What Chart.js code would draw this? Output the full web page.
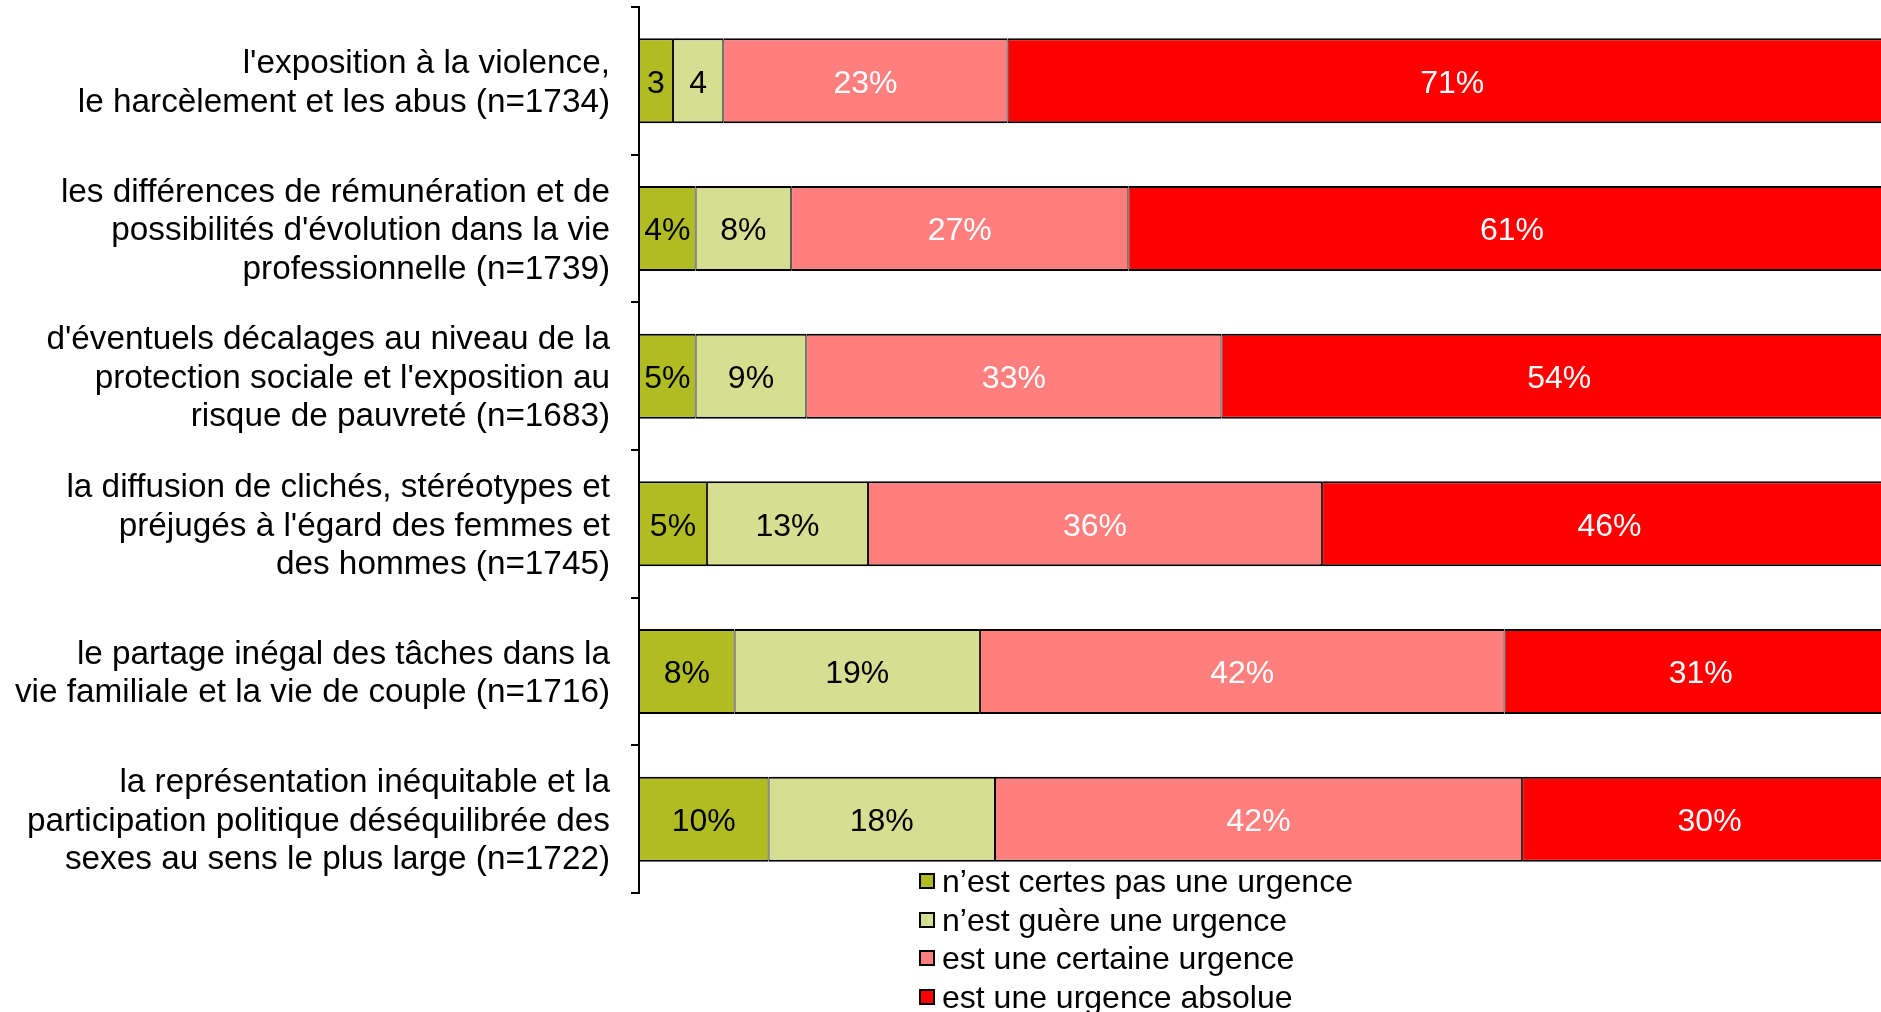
<!DOCTYPE html>
<html>
<head>
<meta charset="utf-8">
<script src="https://cdn.jsdelivr.net/npm/chart.js@4/dist/chart.umd.min.js"></script>
<style>
  html, body { margin: 0; padding: 0; background: #fff; overflow: hidden; width: 1881px; height: 1012px; }
  #wrap { position: absolute; left: 0; top: 0; width: 1898px; height: 1012px; }
  #legend { position: absolute; left: 919px; top: 862px; font-family: 'Liberation Sans', Arial, sans-serif; font-size: 32px; color: #000; }
  .item { height: 38.5px; line-height: 38.5px; white-space: nowrap; display: flex; align-items: center; }
  .box { width: 16px; height: 16px; box-sizing: border-box; border: 2px solid #000; margin-right: 7px; display: inline-block; }
</style>
</head>
<body>
<div id="wrap">
  <canvas id="c" width="1898" height="1012"></canvas>
  <div id="legend"></div>
</div>
<script>
const categories = [
  ["l'exposition à la violence,", "le harcèlement et les abus (n=1734)"],
  ["les différences de rémunération et de", "possibilités d'évolution dans la vie", "professionnelle (n=1739)"],
  ["d'éventuels décalages au niveau de la", "protection sociale et l'exposition au", "risque de pauvreté (n=1683)"],
  ["la diffusion de clichés, stéréotypes et", "préjugés à l'égard des femmes et", "des hommes (n=1745)"],
  ["le partage inégal des tâches dans la", "vie familiale et la vie de couple (n=1716)"],
  ["la représentation inéquitable et la", "participation politique déséquilibrée des", "sexes au sens le plus large (n=1722)"]
];

const seriesNames = [
  "n’est certes pas une urgence",
  "n’est guère une urgence",
  "est une certaine urgence",
  "est une urgence absolue"
];

const certesPas = [2.7, 4.5, 4.5, 5.4, 7.6, 10.3];
const guere     = [4.0, 7.6, 8.8, 12.8, 19.5, 18.0];
const certaine  = [22.6, 26.8, 33.0, 36.1, 41.7, 41.9];
const absolue   = [70.7, 61.0, 53.7, 45.7, 31.2, 29.8];

const certesPasLabels = ["3", "4%", "5%", "5%", "8%", "10%"];
const guereLabels     = ["4", "8%", "9%", "13%", "19%", "18%"];
const certaineLabels  = ["23%", "27%", "33%", "36%", "42%", "42%"];
const absolueLabels   = ["71%", "61%", "54%", "46%", "31%", "30%"];

const colors = ["#B0BC22", "#D6DE92", "#FF7F7F", "#FF0000"];
const labelColors = ["#000000", "#000000", "#FFFFFF", "#FFFFFF"];

const seriesValues = [certesPas, guere, certaine, absolue];
const seriesLabels = [certesPasLabels, guereLabels, certaineLabels, absolueLabels];

const FONT = "'Liberation Sans', Arial, sans-serif";

const datasets = seriesValues.map((vals, i) => ({
  label: seriesNames[i],
  data: vals,
  backgroundColor: colors[i],
  borderColor: "#000",
  borderWidth: { top: 2, bottom: 2, left: 1, right: 1 },
  borderSkipped: false,
  barPercentage: 1,
  categoryPercentage: 0.576,
  valueLabels: seriesLabels[i],
  valueLabelColor: labelColors[i]
}));

const barLabelPlugin = {
  id: 'barLabels',
  afterDatasetsDraw(chart) {
    const ctx = chart.ctx;
    ctx.save();
    ctx.font = "32px " + FONT;
    ctx.textAlign = 'center';
    ctx.textBaseline = 'middle';
    chart.data.datasets.forEach((ds, di) => {
      const meta = chart.getDatasetMeta(di);
      meta.data.forEach((el, i) => {
        const p = el.getProps(['x', 'y', 'base'], true);
        ctx.fillStyle = ds.valueLabelColor;
        ctx.fillText(ds.valueLabels[i], (p.x + p.base) / 2, p.y + 3);
      });
    });
    ctx.restore();
  }
};

new Chart(document.getElementById('c'), {
  type: 'bar',
  data: { labels: categories, datasets: datasets },
  options: {
    indexAxis: 'y',
    responsive: false,
    animation: false,
    devicePixelRatio: 1,
    layout: { padding: { top: 7, right: 1, bottom: 119, left: 0 } },
    plugins: { legend: { display: false }, tooltip: { enabled: false } },
    scales: {
      x: { stacked: true, min: 0, max: 100, display: false },
      y: {
        stacked: true,
        offset: true,
        afterFit: (s) => { s.width = 639; s.paddingTop = 0; s.paddingBottom = 0; },
        grid: { offset: true, drawOnChartArea: false, drawTicks: true, tickLength: 8, color: '#000', lineWidth: 2 },
        border: { display: true, color: '#000', width: 2 },
        ticks: { color: '#000', padding: 21, labelOffset: 2.5, font: { family: FONT, size: 33.3, lineHeight: 1.153 } }
      }
    }
  },
  plugins: [barLabelPlugin]
});

const legend = document.getElementById('legend');
seriesNames.forEach((name, i) => {
  const row = document.createElement('div');
  row.className = 'item';
  const box = document.createElement('span');
  box.className = 'box';
  box.style.background = colors[i];
  const t = document.createElement('span');
  t.textContent = name;
  row.appendChild(box);
  row.appendChild(t);
  legend.appendChild(row);
});
</script>
</body>
</html>
